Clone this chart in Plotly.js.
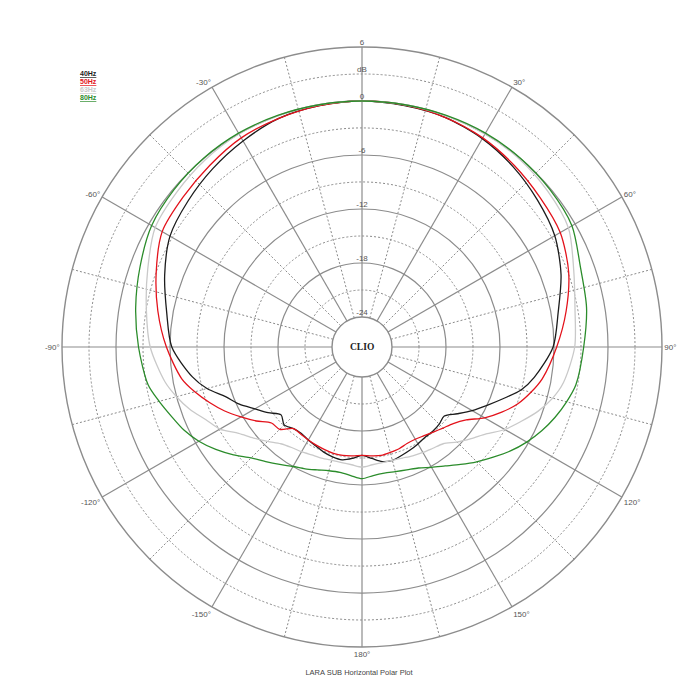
<!DOCTYPE html>
<html>
<head>
<meta charset="utf-8">
<script src="https://cdn.plot.ly/plotly-3.0.1.min.js"></script>
<style>
  html, body { margin: 0; padding: 0; background: #ffffff; }
  #chart { width: 700px; height: 700px; }
</style>
</head>
<body>
<div id="chart"></div>
<script>
// ---------- data (dB, angle in degrees, clockwise from front) ----------
const angles = [-180,-175,-170,-165,-160,-155,-150,-145,-140,-135,-130,-125,-120,-115,-110,-105,-100,
                -90,-80,-70,-60,-50,-40,-30,-20,-10,0,10,20,30,40,50,60,70,80,90,
                100,105,110,115,120,125,130,135,140,145,150,155,160,165,170,175,180];

const db40Hz = [-15.3,-14.9,-14.6,-14.7,-14.9,-15.2,-15.4,-15.6,-15.5,-15.1,-15.6,-14.6,-13.6,-12.3,-11.2,-9.5,-8.2,
                -6.2,-5.3,-4.0,-2.7,-2.1,-1.5,-0.9,-0.3,-0.1,0,-0.1,-0.2,-0.6,-1.2,-1.9,-2.6,-3.8,-5.2,-6.1,
                -7.9,-9.0,-10.6,-12.0,-13.2,-14.4,-15.4,-15.2,-15.1,-15.1,-14.9,-14.7,-14.5,-14.3,-14.4,-14.9,-15.3];

const db50Hz = [-15.3,-15.2,-15.1,-15.1,-15.2,-15.3,-15.4,-15.5,-15.5,-14.4,-14.2,-13.0,-11.8,-10.5,-9.3,-8.1,-7.0,
                -5.6,-4.3,-3.0,-1.7,-1.4,-1.0,-0.5,-0.3,-0.1,0,-0.05,-0.2,-0.5,-1.0,-1.5,-1.9,-2.9,-4.3,-5.7,
                -7.0,-7.9,-8.9,-10.2,-11.6,-13.2,-14.1,-14.6,-15.0,-15.3,-15.5,-15.5,-15.3,-15.2,-15.1,-15.2,-15.3];

const db63Hz = [-14.0,-14.2,-14.3,-14.3,-14.2,-14.1,-13.9,-13.7,-13.3,-12.5,-11.6,-10.6,-9.1,-8.2,-7.0,-6.0,-5.1,
                -3.8,-3.0,-2.0,-0.8,-0.5,-0.2,0,0,0,0,0,0,0,-0.1,-0.4,-0.85,-2.3,-3.3,-3.7,
                -4.6,-5.4,-6.5,-7.8,-9.0,-10.5,-11.5,-12.4,-13.3,-13.6,-13.8,-14.0,-14.2,-14.3,-14.3,-14.2,-14.0];

const db80Hz = [-12.7,-13.0,-13.2,-13.1,-12.8,-12.4,-12.0,-11.4,-10.7,-9.9,-8.7,-7.5,-6.4,-5.5,-4.8,-4.0,-3.2,
                -2.5,-1.8,-1.1,-0.35,-0.1,0.05,0.1,0.05,0,0,0,0.05,0.1,0.05,-0.1,-0.4,-1.5,-2.0,-2.7,
                -3.2,-3.8,-4.5,-5.3,-6.2,-7.2,-8.3,-9.3,-10.3,-11.2,-11.9,-12.5,-12.8,-13.0,-13.1,-13.0,-12.7];

const seriesNames  = ['40Hz', '50Hz', '63Hz', '80Hz'];
const seriesColors = ['#1c1c1c', '#e3121b', '#c9c9c9', '#2b8c2b'];

const solidRings = [6, 0, -6, -12, -18, -24];
const dotRings   = [3, -3, -9, -15, -21];
const radialLabelValues = [6, 3, 0, -6, -12, -18, -24];
const radialLabelText   = ['6', 'dB', '0', '-6', '-12', '-18', '-24'];

const spokeAngles = [0, 30, 60, 90, 120, 150, 180, 210, 240, 270, 300, 330];
const spokeLabels = ['', '30°', '60°', '90°', '120°', '150°', '180°', '-150°', '-120°', '-90°', '-60°', '-30°'];
const dotSpokes   = [15, 45, 75, 105, 135, 165, 195, 225, 255, 285, 315, 345];

const chartTitle = 'LARA SUB Horizontal Polar Plot';
const centreLabel = 'CLIO';

// ---------- layout geometry ----------
const W = 700, H = 700;
const cx = 362, cy = 347, R = 300;
const dom = { x: [(cx - R) / W, (cx + R) / W], y: [(H - cy - R) / H, (H - cy + R) / H] };
const FONT = 'Liberation Sans, Arial, sans-serif';
const gridSolid = '#8c8c8c';
const gridDot = '#8a8a8a';
const labelColor = '#555555';

// invisible trace so that the dotted-grid subplot is drawn
const traces = [{
  type: 'scatterpolar',
  subplot: 'polar',
  r: [-24],
  theta: [0],
  mode: 'markers',
  marker: { size: 1, color: 'rgba(0,0,0,0)' },
  hoverinfo: 'skip',
  showlegend: false
}];

const dbSeries = [db40Hz, db50Hz, db63Hz, db80Hz];
dbSeries.forEach((vals, i) => traces.push({
  type: 'scatterpolar',
  subplot: 'polar2',
  r: vals,
  theta: angles,
  mode: 'lines',
  line: { color: seriesColors[i], width: 1.3, shape: 'spline', smoothing: 0.8 },
  name: seriesNames[i],
  hoverinfo: 'skip',
  showlegend: false
}));

traces.push({
  type: 'scatterpolar',
  subplot: 'polar2',
  r: radialLabelValues,
  theta: radialLabelValues.map(() => 0),
  mode: 'text',
  text: radialLabelText,
  textposition: 'top center',
  textfont: { family: FONT, size: 8, color: labelColor },
  cliponaxis: false,
  hoverinfo: 'skip',
  showlegend: false
});

const legendAnnotations = seriesNames.map((n, i) => ({
  xref: 'paper', yref: 'paper',
  x: 78 / W, xanchor: 'left',
  y: 1 - (73 + i * 8.2) / H, yanchor: 'middle',
  text: '<b><u>' + n + '</u></b>',
  showarrow: false,
  font: { family: FONT, size: 7, color: seriesColors[i] }
}));

const layout = {
  width: W, height: H,
  margin: { l: 0, r: 0, t: 0, b: 0 },
  paper_bgcolor: '#ffffff',
  showlegend: false,
  font: { family: FONT, size: 8, color: labelColor },
  title: {
    text: chartTitle,
    font: { family: FONT, size: 7.5, color: '#444444' },
    x: 359 / W, xanchor: 'center',
    y: 1 - 672 / H, yanchor: 'middle', yref: 'container'
  },
  polar: {
    domain: dom,
    hole: 0.1,
    bgcolor: '#ffffff',
    radialaxis: {
      range: [-24, 6], tickvals: dotRings, showticklabels: false, ticks: '',
      showline: false, gridcolor: gridDot, griddash: '2px,2px', gridwidth: 1
    },
    angularaxis: {
      rotation: 90, direction: 'clockwise', tickvals: dotSpokes,
      showticklabels: false, ticks: '', showline: false,
      gridcolor: gridDot, griddash: '2px,2px', gridwidth: 1
    }
  },
  polar2: {
    domain: dom,
    hole: 0.1,
    bgcolor: 'rgba(0,0,0,0)',
    radialaxis: {
      range: [-24, 6], tickvals: solidRings, showticklabels: false, ticks: '',
      showline: false, gridcolor: gridSolid, gridwidth: 1.2
    },
    angularaxis: {
      rotation: 90, direction: 'clockwise', tickvals: spokeAngles, ticktext: spokeLabels,
      ticks: '', showline: true, linecolor: gridSolid, linewidth: 1.4,
      gridcolor: gridSolid, gridwidth: 1.2,
      tickfont: { family: FONT, size: 8, color: labelColor }
    }
  },
  annotations: legendAnnotations.concat([{
    xref: 'paper', yref: 'paper',
    x: (dom.x[0] + dom.x[1]) / 2, y: (dom.y[0] + dom.y[1]) / 2,
    xanchor: 'center', yanchor: 'middle',
    text: '<b>' + centreLabel + '</b>',
    showarrow: false,
    font: { family: 'Liberation Serif, Times New Roman, serif', size: 9.5, color: '#222222' }
  }])
};

Plotly.newPlot('chart', traces, layout, { displayModeBar: false, staticPlot: true });
</script>
</body>
</html>
